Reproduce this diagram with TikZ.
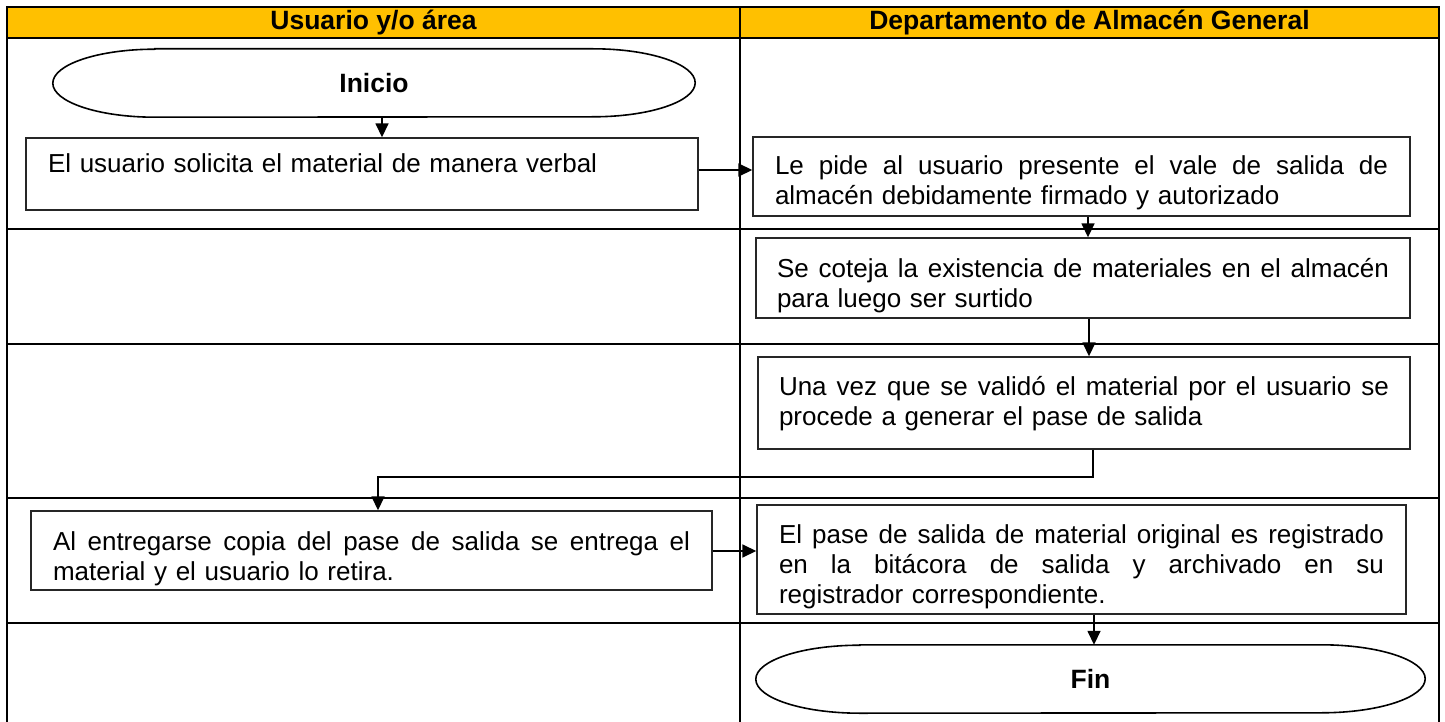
\documentclass[tikz,border=0pt]{standalone}
\usepackage{fontspec}
\setmainfont{Liberation Sans}
\usetikzlibrary{arrows.meta,calc}
\definecolor{hdrfill}{RGB}{255,192,0}
\newcommand{\J}[2]{\leavevmode\hbox to #1{\spaceskip=0.2778em plus 1fil\relax #2}}
\begin{document}
\begin{tikzpicture}[x=1pt,y=1pt,
  every node/.style={font=\fontsize{26}{30}\selectfont},
  box/.style={draw=black!85, line width=1.4pt, inner xsep=22pt, inner ysep=0pt, align=left, fill=white},
  term/.style={draw=black, line width=1.6pt},
  arr/.style={line width=1.6pt, -{Triangle[length=14pt,width=13pt]}},
  grid/.style={line width=2.6pt},
  hdr/.style={font=\fontsize{26.5}{30}\selectfont\bfseries}
]
\useasboundingbox (0,0) rectangle (1445,-722);
% table
\fill[hdrfill] (7,-7) rectangle (1439,-38);
\draw[grid] (7,-7) rectangle (1439,-732);
\draw[grid] (740,-7) -- (740,-732);
\foreach \yy in {38,229,344,498,623} \draw[grid] (7,-\yy) -- (1439,-\yy);
\node[hdr] (h1) at (373.5,-22.5) {Usuario y/o área};
\node[hdr] (h2) at (1089.5,-22.5) {Departamento de Almacén General};
% start terminator
\node[minimum width=642pt, minimum height=68pt, inner sep=0pt, font=\fontsize{26.5}{30}\selectfont\bfseries] (ini) at (374,-83) {Inicio};
\draw[term] ([xshift=102pt]ini.north west) -- ([xshift=-102pt]ini.north east)
  arc[start angle=90, end angle=-90, x radius=102pt, y radius=34pt]
  -- ([xshift=102pt]ini.south west)
  arc[start angle=270, end angle=90, x radius=102pt, y radius=34pt] -- cycle;
% boxes
\node[box, text width=628pt, minimum width=672pt, text height=35pt, text depth=37pt] (b1) at (362,-174)
  {El usuario solicita el material de manera verbal};
\node[box, text width=613pt, minimum width=657pt, text height=38pt, text depth=41pt] (b2) at (1081.5,-176.5)
  {\J{613pt}{Le pide al usuario presente el vale de salida de}\\almacén debidamente firmado y autorizado};
\node[box, inner xsep=21pt, text width=612pt, minimum width=654pt, text height=39pt, text depth=41pt] (b3) at (1083,-278)
  {\J{612pt}{Se coteja la existencia de materiales en el almacén}\\para luego ser surtido};
\node[box, inner xsep=21pt, text width=610pt, minimum width=652pt, text height=38pt, text depth=54pt] (b4) at (1084,-403)
  {\J{610pt}{Una vez que se validó el material por el usuario se}\\procede a generar el pase de salida};
\node[box, text width=637pt, minimum width=681pt, text height=39pt, text depth=40pt] (b5) at (371.5,-550.5)
  {\J{637pt}{Al entregarse copia del pase de salida se entrega el}\\material y el usuario lo retira.};
\node[box, text width=605pt, minimum width=649pt, text height=38pt, text depth=71pt] (b6) at (1081.5,-559.5)
  {\J{605pt}{El pase de salida de material original es registrado}\\\J{605pt}{en la bitácora de salida y archivado en su}\\registrador correspondiente.};
% end terminator
\node[minimum width=669pt, minimum height=68pt, inner sep=0pt, font=\fontsize{26.5}{30}\selectfont\bfseries] (fin) at (1090.5,-679) {Fin};
\draw[term] ([xshift=104pt]fin.north west) -- ([xshift=-104pt]fin.north east)
  arc[start angle=90, end angle=-90, x radius=104pt, y radius=34pt]
  -- ([xshift=104pt]fin.south west)
  arc[start angle=270, end angle=90, x radius=104pt, y radius=34pt] -- cycle;
% connectors
\coordinate (a01) at (382,0);
\draw[arr] (ini.south -| a01) -- (b1.north -| a01);
\coordinate (a12) at (0,-170);
\draw[arr] (b1.east |- a12) -- (b2.west |- a12);
\coordinate (a23) at (1088,0);
\draw[arr] (b2.south -| a23) -- (b3.north -| a23);
\coordinate (a34) at (1089,0);
\draw[arr] (b3.south -| a34) -- (b4.north -| a34);
\coordinate (k1) at (1093,-477);
\coordinate (k2) at (378,-477);
\draw[arr] (b4.south -| k1) -- (k1) -- (k2) -- (b5.north -| k2);
\coordinate (a56) at (0,-551);
\draw[arr] (b5.east |- a56) -- (b6.west |- a56);
\coordinate (a6f) at (1094,0);
\draw[arr] (b6.south -| a6f) -- (fin.north -| a6f);
\end{tikzpicture}
\end{document}
